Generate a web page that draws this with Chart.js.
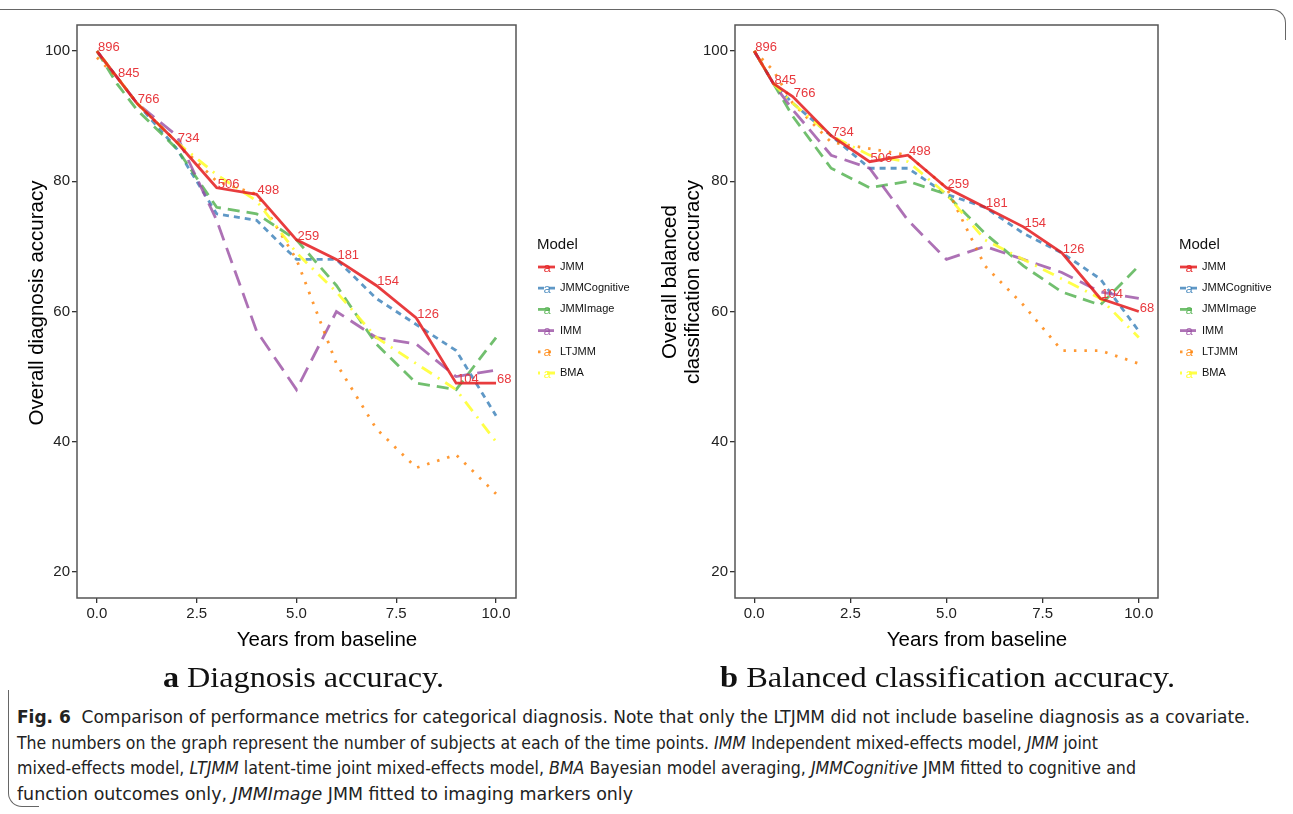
<!DOCTYPE html>
<html>
<head>
<meta charset="utf-8">
<script src="https://cdn.jsdelivr.net/npm/chart.js@4.4.1/dist/chart.umd.min.js"></script>
<style>
  body { margin: 0; background: #fff; width: 1293px; height: 814px; overflow: hidden; position: relative; font-family: "Liberation Sans", Arial, sans-serif; }
  canvas { position: absolute; top: 0; }
  #c1 { left: 0; }
  #c2 { left: 650px; }
  .sub { position: absolute; font-family: "Liberation Serif", serif; font-size: 30px; white-space: nowrap; transform-origin: 0 50%; color: #111; line-height: 1; }
  .cap { position: absolute; left: 17px; font-family: "Liberation Sans Narrow", "DejaVu Sans Condensed", sans-serif; font-size: 17px; white-space: nowrap; transform-origin: 0 50%; color: #222; line-height: 1; }
  #boxTop { position: absolute; left: -20px; top: 9px; width: 1305px; height: 30px; border-top: 1.5px solid #666; border-right: 1.5px solid #666; border-top-right-radius: 14px; }
  #boxBottom { position: absolute; left: 8px; top: 690px; width: 30px; height: 116px; border-left: 1.5px solid #666; border-bottom: 1.5px solid #666; border-bottom-left-radius: 14px; }
</style>
</head>
<body>
<div id="boxTop"></div>
<div id="boxBottom"></div>
<canvas id="c1" width="650" height="700"></canvas>
<canvas id="c2" width="643" height="700"></canvas>

<div class="sub" data-w="281" style="left:163px; top:662px;"><b>a</b> Diagnosis accuracy.</div>
<div class="sub" data-w="455" style="left:720px; top:662px;"><b>b</b> Balanced classification accuracy.</div>

<div class="cap" data-w="1233" style="top:709px;"><b>Fig. 6</b>&nbsp; Comparison of performance metrics for categorical diagnosis. Note that only the LTJMM did not include baseline diagnosis as a covariate.</div>
<div class="cap" data-w="1081" style="top:735px;">The numbers on the graph represent the number of subjects at each of the time points. <i>IMM</i> Independent mixed-effects model, <i>JMM</i> joint</div>
<div class="cap" data-w="1119" style="top:760px;">mixed-effects model, <i>LTJMM</i> latent-time joint mixed-effects model, <i>BMA</i> Bayesian model averaging, <i>JMMCognitive</i> JMM fitted to cognitive and</div>
<div class="cap" data-w="616" style="top:786px;">function outcomes only, <i>JMMImage</i> JMM fitted to imaging markers only</div>

<script>
// time points (years from baseline) and number of subjects at each
const timePoints = [0, 0.5, 1, 2, 3, 4, 5, 6, 7, 8, 9, 10];
const nSubjects = [896, 845, 766, 734, 506, 498, 259, 181, 154, 126, 104, 68];
const models = ['JMM', 'JMMCognitive', 'JMMImage', 'IMM', 'LTJMM', 'BMA'];

// a: overall diagnosis accuracy (%)
const diagJMM          = [100, 96, 92, 86, 79, 78, 71, 68, 64, 59, 49, 49];
const diagJMMCognitive = [100, 96, 92, 85, 75, 74, 68, 68, 62, 58, 54, 44];
const diagJMMImage     = [100, 95, 91, 85, 76, 75, 71, 64, 55, 49, 48, 56];
const diagIMM          = [100, 96, 92, 87, 74, 57, 48, 60, 56, 55, 50, 51];
const diagLTJMM        = [99, 96, 92, 86, 80, 78, 68, 52, 42, 36, 38, 32];
const diagBMA          = [100, 96, 92, 86, 81, 77, 69, 63, 56, 52, 48, 40];

// b: overall balanced classification accuracy (%)
const balJMM          = [100, 95, 93, 87, 83, 84, 79, 76, 73, 69, 62, 60];
const balJMMCognitive = [100, 95, 92, 87, 82, 82, 78, 76, 72, 69, 65, 57];
const balJMMImage     = [100, 95, 90, 82, 79, 80, 78, 72, 67, 63, 61, 67];
const balIMM          = [100, 95, 91, 84, 82, 74, 68, 70, 68, 66, 63, 62];
const balLTJMM        = [100, 97, 92, 86, 85, 84, 79, 67, 61, 54, 54, 52];
const balBMA          = [100, 95, 92, 87, 84, 83, 78, 71, 68, 65, 62, 56];

const xTickValues = [0, 2.5, 5, 7.5, 10];
const xTickLabels = ['0.0', '2.5', '5.0', '7.5', '10.0'];
const yTickValues = [20, 40, 60, 80, 100];

// Set1 colours, line types like ggplot
const colors = ['rgba(228,26,28,0.85)', 'rgba(55,126,184,0.8)', 'rgba(77,175,74,0.8)',
                'rgba(152,78,163,0.8)', 'rgba(255,127,0,0.8)', 'rgba(255,255,51,0.9)'];
const dashes = [[], [6, 5], [12, 7], [16, 8], [2.5, 8], [2, 7, 12, 7]];
const labelRed = '#E8383D';
const FONT = '"Liberation Sans", Arial, sans-serif';

function makeDatasets(series) {
  return series.map((vals, i) => ({
    label: models[i],
    data: timePoints.map((t, j) => ({ x: t, y: vals[j] })),
    borderColor: colors[i],
    borderWidth: 2.8,
    borderDash: dashes[i],
    pointRadius: 0,
    tension: 0,
    fill: false,
    order: i === 0 ? 0 : 6 - i
  }));
}

const extras = {
  id: 'extras',
  afterDatasetsDraw(chart) {
    const ctx = chart.ctx;
    const meta = chart.getDatasetMeta(0);
    ctx.save();
    ctx.font = '13px ' + FONT;
    ctx.fillStyle = labelRed;
    ctx.textBaseline = 'alphabetic';
    ctx.textAlign = 'left';
    meta.data.forEach((pt, i) => ctx.fillText(String(nSubjects[i]), pt.x + 1, pt.y));
    ctx.restore();
  },
  afterDraw(chart, args, o) {
    const ctx = chart.ctx, a = chart.chartArea;
    ctx.save();
    // panel frame
    ctx.strokeStyle = '#555';
    ctx.lineWidth = 1.5;
    ctx.strokeRect(a.left, a.top, a.right - a.left, a.bottom - a.top);
    // axis titles
    ctx.fillStyle = '#000';
    ctx.font = '20.5px ' + FONT;
    ctx.textAlign = 'center';
    ctx.textBaseline = 'middle';
    ctx.fillText('Years from baseline', o.xTitleX, 640);
    o.yTitle.forEach((line, k) => {
      ctx.save();
      ctx.translate(o.yTitleX[k], o.yTitleY);
      ctx.rotate(-Math.PI / 2);
      ctx.fillText(line, 0, 0);
      ctx.restore();
    });
    // legend
    const lx = o.legendX;
    ctx.textAlign = 'left';
    ctx.font = '15px ' + FONT;
    ctx.fillStyle = '#111';
    ctx.fillText('Model', lx, 245);
    models.forEach((m, i) => {
      const y = 267 + i * 21.2;
      ctx.beginPath();
      ctx.setLineDash(dashes[i]);
      ctx.strokeStyle = colors[i];
      ctx.lineWidth = 2.8;
      ctx.moveTo(lx + 1, y);
      ctx.lineTo(lx + 18, y);
      ctx.stroke();
      ctx.setLineDash([]);
      ctx.fillStyle = colors[i];
      ctx.font = '13px ' + FONT;
      ctx.textAlign = 'center';
      ctx.fillText('a', lx + 10, y + 1);
      ctx.fillStyle = '#111';
      ctx.font = '11px ' + FONT;
      ctx.textAlign = 'left';
      ctx.fillText(m, lx + 23, y);
    });
    ctx.restore();
  }
};

function makeChart(id, series, cfg) {
  return new Chart(document.getElementById(id), {
    type: 'line',
    data: { datasets: makeDatasets(series) },
    options: {
      responsive: false,
      animation: false,
      devicePixelRatio: 1,
      layout: { padding: { left: 0, top: 25, right: cfg.padRight, bottom: 0 } },
      plugins: { legend: { display: false }, tooltip: { enabled: false }, extras: cfg },
      scales: {
        x: {
          type: 'linear', min: -0.5, max: 10.5,
          afterBuildTicks: s => { s.ticks = xTickValues.map(v => ({ value: v })); },
          afterFit: s => { s.height = 102; },
          ticks: { callback: (v) => xTickLabels[xTickValues.indexOf(v)], color: '#222', font: { size: 15, family: FONT }, padding: 2, maxRotation: 0 },
          grid: { drawOnChartArea: false, drawTicks: true, tickLength: 5, color: '#333', lineWidth: 1.3 },
          border: { display: false }
        },
        y: {
          type: 'linear', min: 16, max: 104,
          afterBuildTicks: s => { s.ticks = yTickValues.map(v => ({ value: v })); },
          afterFit: s => { s.width = cfg.yWidth; },
          ticks: { color: '#222', font: { size: 15, family: FONT }, padding: 2 },
          grid: { drawOnChartArea: false, drawTicks: true, tickLength: 5, color: '#333', lineWidth: 1.3 },
          border: { display: false }
        }
      }
    },
    plugins: [extras]
  });
}

makeChart('c1', [diagJMM, diagJMMCognitive, diagJMMImage, diagIMM, diagLTJMM, diagBMA], {
  padRight: 134, yWidth: 77, xTitleX: 327, yTitle: ['Overall diagnosis accuracy'], yTitleX: [37], yTitleY: 303, legendX: 537
});
makeChart('c2', [balJMM, balJMMCognitive, balJMMImage, balIMM, balLTJMM, balBMA], {
  padRight: 135, yWidth: 85, xTitleX: 327, yTitle: ['Overall balanced', 'classification accuracy'], yTitleX: [20, 43], yTitleY: 282, legendX: 529
});

// fit caption lines to their widths
document.querySelectorAll('[data-w]').forEach(el => {
  const w = el.getBoundingClientRect().width;
  el.style.transform = 'scaleX(' + (parseFloat(el.dataset.w) / w) + ')';
});
</script>
</body>
</html>
